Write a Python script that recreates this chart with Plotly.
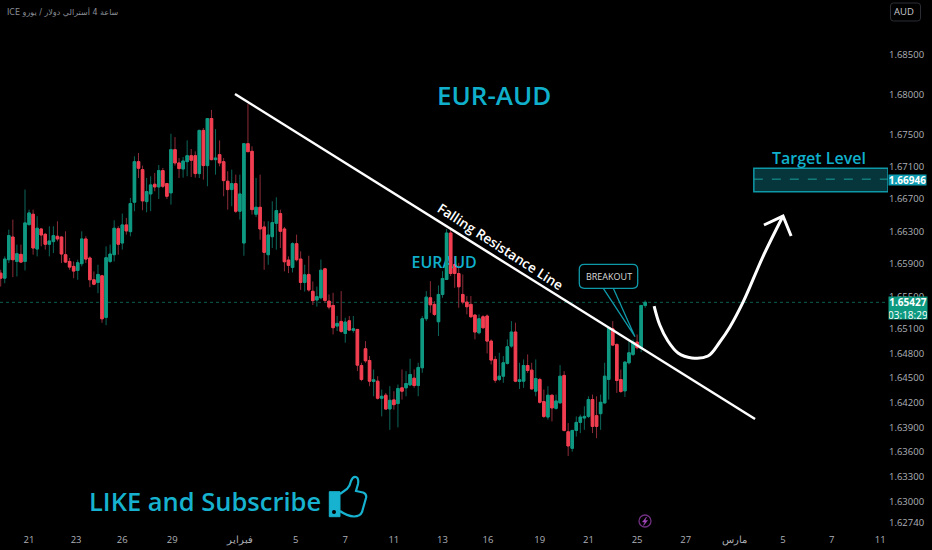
import numpy as np
import plotly.graph_objects as go

W, H = 932, 550
PW, PH = 888, 532

candles = """1.65786 1.65827 1.65621 1.65724
1.65724 1.65992 1.65662 1.65959
1.65951 1.66322 1.65910 1.66248
1.66231 1.66446 1.65737 1.65951
1.65930 1.66137 1.65745 1.66025
1.66017 1.66137 1.65910 1.65922
1.65930 1.66817 1.65819 1.66405
1.66384 1.66569 1.66372 1.66528
1.66512 1.66569 1.66013 1.66095
1.66083 1.66487 1.65992 1.66339
1.66330 1.66343 1.66116 1.66256
1.66264 1.66281 1.66075 1.66141
1.66141 1.66363 1.65992 1.66182
1.66174 1.66363 1.66033 1.66248
1.66240 1.66425 1.66178 1.66207
1.66231 1.66240 1.65910 1.66021
1.66013 1.66301 1.65910 1.65922
1.65930 1.65972 1.65827 1.65860
1.65869 1.65930 1.65724 1.65811
1.65819 1.65951 1.65704 1.65914
1.65902 1.66301 1.65869 1.66207
1.66207 1.66240 1.65910 1.65959
1.65972 1.65992 1.65613 1.65704
1.65704 1.65807 1.65638 1.65650
1.65671 1.65889 1.65539 1.65770
1.65753 1.65765 1.65176 1.65225
1.65242 1.66116 1.65147 1.65976
1.65930 1.66137 1.65910 1.66021
1.66013 1.66437 1.65930 1.66339
1.66334 1.66363 1.66013 1.66141
1.66157 1.66520 1.66075 1.66380
1.66380 1.66466 1.66260 1.66306
1.66297 1.66714 1.66240 1.66644
1.66660 1.67229 1.66549 1.67163
1.67163 1.67270 1.66961 1.67081
1.67064 1.67114 1.66561 1.66677
1.66668 1.66961 1.66536 1.66792
1.66763 1.66982 1.66549 1.66875
1.66883 1.67023 1.66796 1.66850
1.66850 1.67122 1.66701 1.67052
1.67052 1.67085 1.66837 1.66858
1.66891 1.66899 1.66701 1.66734
1.66776 1.67509 1.66631 1.67312
1.67312 1.67468 1.67114 1.67147
1.67147 1.67208 1.66961 1.67077
1.67072 1.67221 1.66965 1.67171
1.67163 1.67427 1.66982 1.67237
1.67237 1.67320 1.66973 1.67180
1.67237 1.67291 1.66965 1.67015
1.67015 1.67559 1.66961 1.67551
1.67551 1.67580 1.66940 1.67114
1.67114 1.67703 1.66858 1.67699
1.67699 1.67806 1.67180 1.67188
1.67188 1.67567 1.67002 1.67208
1.67250 1.67427 1.67105 1.67147
1.67163 1.67208 1.66734 1.66928
1.66920 1.67044 1.66569 1.66817
1.66817 1.67064 1.66611 1.66891
1.66891 1.67002 1.66528 1.66549
1.66549 1.67002 1.66446 1.66763
1.66157 1.67394 1.66000 1.67386
1.67386 1.67881 1.67279 1.67287
1.67291 1.67353 1.66508 1.66569
1.66512 1.66961 1.66479 1.66598
1.66598 1.67002 1.66198 1.66330
1.66355 1.66425 1.65827 1.66042
1.66013 1.66425 1.65889 1.66256
1.66235 1.66672 1.66095 1.66409
1.66400 1.66722 1.66075 1.66557
1.66520 1.66569 1.66095 1.66301
1.66330 1.66355 1.65807 1.65926
1.65947 1.65992 1.65786 1.65881
1.65856 1.66165 1.65794 1.66149
1.66149 1.66260 1.65930 1.65951
1.65959 1.66054 1.65580 1.65671
1.65671 1.65889 1.65559 1.65765
1.65770 1.66000 1.65559 1.65580
1.65563 1.65683 1.65394 1.65448
1.65456 1.65621 1.65374 1.65497
1.65483 1.65953 1.65463 1.65822
1.65839 1.65851 1.65422 1.65451
1.65442 1.65524 1.65340 1.65369
1.65389 1.65544 1.65034 1.65116
1.65136 1.65259 1.65075 1.65169
1.65193 1.65565 1.65054 1.65071
1.65046 1.65238 1.64932 1.65185
1.65201 1.65259 1.65075 1.65087
1.65083 1.65259 1.65054 1.65103
1.65095 1.65100 1.64585 1.64658
1.64654 1.64687 1.64462 1.64483
1.64858 1.64952 1.64687 1.64711
1.64715 1.64769 1.64401 1.64462
1.64458 1.64605 1.64278 1.64479
1.64462 1.64523 1.64238 1.64254
1.64254 1.64360 1.64033 1.64278
1.64291 1.64319 1.64115 1.64123
1.64123 1.64401 1.63870 1.64229
1.64234 1.64340 1.64115 1.64176
1.64189 1.64421 1.63899 1.64372
1.64381 1.64605 1.64238 1.64340
1.64381 1.64585 1.64278 1.64434
1.64417 1.64736 1.64401 1.64544
1.64499 1.64605 1.64381 1.64409
1.64409 1.64687 1.64278 1.64630
1.64626 1.65259 1.64564 1.65226
1.65226 1.65565 1.65197 1.65491
1.65483 1.65687 1.65299 1.65397
1.65402 1.65442 1.65259 1.65279
1.65189 1.65634 1.65014 1.65524
1.65524 1.65810 1.65483 1.65720
1.65708 1.66329 1.65700 1.66280
1.66280 1.66320 1.65749 1.65781
1.65892 1.65994 1.65606 1.65781
1.65781 1.65912 1.65361 1.65618
1.65524 1.65769 1.65402 1.65430
1.65430 1.65504 1.65279 1.65373
1.65402 1.65504 1.65238 1.65250
1.65271 1.65279 1.64973 1.65063
1.65054 1.65279 1.65034 1.65226
1.65250 1.65270 1.65100 1.65116
1.65259 1.65279 1.64801 1.64952
1.64952 1.64973 1.64666 1.64720
1.64728 1.64769 1.64442 1.64474
1.64483 1.64809 1.64462 1.64523
1.64523 1.64769 1.64442 1.64687
1.64679 1.64973 1.64666 1.64883
1.64891 1.65197 1.64871 1.65063
1.65063 1.65177 1.64450 1.64462
1.64458 1.64687 1.64368 1.64479
1.64462 1.64728 1.64381 1.64654
1.64654 1.64789 1.64564 1.64593
1.64597 1.64687 1.64360 1.64368
1.64340 1.64728 1.64278 1.64495
1.64483 1.64503 1.64189 1.64205
1.64213 1.64360 1.64013 1.64033
1.64025 1.64401 1.63993 1.64291
1.64291 1.64299 1.63972 1.64136
1.64131 1.64299 1.64115 1.64221
1.64197 1.64658 1.64197 1.64523
1.64532 1.64585 1.63850 1.63862
1.63846 1.63952 1.63552 1.63674
1.63645 1.63870 1.63605 1.63862
1.63862 1.64033 1.63788 1.63960
1.63960 1.64054 1.63829 1.64025
1.64013 1.64156 1.63870 1.64033
1.64033 1.64278 1.64013 1.64238
1.64238 1.64299 1.63829 1.63911
1.64042 1.64278 1.63768 1.63911
1.64066 1.64299 1.63870 1.64205
1.64197 1.64687 1.64189 1.64523
1.64483 1.65128 1.64238 1.65116
1.65103 1.65197 1.64891 1.64903
1.64911 1.64924 1.64319 1.64470
1.64483 1.64605 1.64319 1.64336
1.64344 1.64707 1.64270 1.64695
1.64687 1.64952 1.64666 1.64809
1.64789 1.64973 1.64769 1.64940
1.64940 1.65034 1.64850 1.64871
1.64862 1.65389 1.64817 1.65389
1.65389 1.65450 1.65360 1.65427"""
rows = [[float(v) for v in line.split()] for line in candles.splitlines()]
opens = [r[0] for r in rows]
highs = [r[1] for r in rows]
lows = [r[2] for r in rows]
closes = [r[3] for r in rows]
index = list(range(len(rows)))

price_ticks = [1.685, 1.68, 1.675, 1.671, 1.667, 1.663, 1.659, 1.655, 1.651, 1.648,
               1.645, 1.642, 1.639, 1.636, 1.633, 1.63, 1.6274]
price_labels = ["1.68500", "1.68000", "1.67500", "1.67100", "1.66700", "1.66300", "1.65900",
                "1.65500", "1.65100", "1.64800", "1.64500", "1.64200", "1.63900", "1.63600",
                "1.63300", "1.63000", "1.62740"]
date_ticks = [7, 18.6, 30, 42.3, 59, 72.8, 85, 97, 109, 120.2, 133, 145, 157, 169, 181, 193, 205, 217]
date_labels = ["21", "23", "26", "29", "فبراير", "5", "7", "11", "13", "16", "19", "21", "25", "27",
               "مارس", "5", "7", "11"]

last_price = 1.65427
target_price = 1.66946
target_top, target_bottom = 1.67081, 1.66791
trend_x, trend_y = [57.8, 186.1], [1.68004, 1.64001]
curve_x = [161.2, 162.6, 164.6, 167.1, 170.5, 174.5, 177.4, 179.9, 183.2, 188.0, 193.0]
curve_y = [1.65382, 1.65149, 1.64953, 1.64807, 1.64746, 1.64770, 1.64941, 1.65125, 1.65435, 1.65984, 1.66490]
head_x = [188.3, 193.0, 195.0]
head_y = [1.66379, 1.66490, 1.66244]

GREEN, RED = "#0f9982", "#f23e50"
GREEN_W, RED_W = "#0c665a", "#8c2c38"
CYAN = "#10b0cc"
TEAL = "#0f98a8"
AXIS = "#aeb1b8"
X_RANGE = [-0.17, 218.9]
Y_RANGE = [float(np.log10(1.62632)), float(np.log10(1.69180))]


def px(x):
    return x / PW


def py(y):
    return 1 - y / PH


def pt(x, y):
    return f"{px(x):.5f},{py(y):.5f}"


def poly(points, close=False):
    d = "M" + " L".join(pt(*p) for p in points)
    return d + (" Z" if close else "")


def rounded(x0, y0, x1, y1, r):
    return (f"M{pt(x0 + r, y0)} L{pt(x1 - r, y0)} Q{pt(x1, y0)} {pt(x1, y0 + r)} L{pt(x1, y1 - r)} "
            f"Q{pt(x1, y1)} {pt(x1 - r, y1)} L{pt(x0 + r, y1)} Q{pt(x0, y1)} {pt(x0, y1 - r)} "
            f"L{pt(x0, y0 + r)} Q{pt(x0, y0)} {pt(x0 + r, y0)} Z")


fig = go.Figure()

fig.add_trace(go.Candlestick(
    x=index, open=opens, high=highs, low=lows, close=closes,
    increasing=dict(line=dict(color=GREEN_W, width=1), fillcolor=GREEN_W),
    decreasing=dict(line=dict(color=RED_W, width=1), fillcolor=RED_W),
    hoverinfo="skip", showlegend=False))
fig.add_trace(go.Candlestick(
    x=index, open=opens, close=closes,
    high=[max(o, c) for o, c in zip(opens, closes)],
    low=[min(o, c) for o, c in zip(opens, closes)],
    increasing=dict(line=dict(color=GREEN, width=1), fillcolor=GREEN),
    decreasing=dict(line=dict(color=RED, width=1), fillcolor=RED),
    hoverinfo="skip", showlegend=False))

fig.add_trace(go.Scatter(x=[109.4], y=[1.65899], mode="text", text=["EURAUD"],
                         textfont=dict(family="Open Sans", size=16, color=CYAN, weight=600),
                         hoverinfo="skip", showlegend=False))
for i in (110, 111):
    fig.add_trace(go.Scatter(x=[i, i], y=[opens[i], closes[i]], mode="lines",
                             line=dict(color=GREEN if closes[i] > opens[i] else RED, width=3),
                             hoverinfo="skip", showlegend=False))

fig.add_trace(go.Scatter(x=trend_x, y=trend_y, mode="lines", line=dict(color="white", width=2.5),
                         hoverinfo="skip", showlegend=False))
fig.add_trace(go.Scatter(x=curve_x, y=curve_y, mode="lines", line=dict(color="white", width=3, shape="spline"),
                         hoverinfo="skip", showlegend=False))
fig.add_trace(go.Scatter(x=head_x, y=head_y, mode="lines", line=dict(color="white", width=3),
                         hoverinfo="skip", showlegend=False))

shapes = [
    dict(type="rect", xref="x", yref="y", x0=185.8, x1=X_RANGE[1], y0=target_bottom, y1=target_top,
         fillcolor="#06363b", line=dict(color=TEAL, width=1.5), layer="below"),
    dict(type="line", xref="x", yref="y", x0=185.8, x1=X_RANGE[1], y0=target_price, y1=target_price,
         line=dict(color="#19a09c", width=1, dash="dash"), layer="below"),
    dict(type="line", xref="x", yref="y", x0=X_RANGE[0], x1=X_RANGE[1], y0=last_price, y1=last_price,
         line=dict(color="#0c5c50", width=1, dash="dot"), layer="below"),
    dict(type="path", xref="paper", yref="paper", path=rounded(579.3, 264.3, 637.7, 288.3, 5),
         line=dict(color=TEAL, width=1.3)),
    dict(type="path", xref="paper", yref="paper",
         path=poly([(603.3, 288.3), (635, 336.7), (613.3, 288.3)]),
         line=dict(color=TEAL, width=1.3)),
    dict(type="path", xref="paper", yref="paper", path=rounded(890.5, 3, 920.5, 21, 3),
         line=dict(color="#2a2d33", width=1)),
    dict(type="circle", xref="paper", yref="paper", x0=px(639), x1=px(651), y0=py(527), y1=py(515),
         line=dict(color="#6f2f80", width=1.3)),
    dict(type="path", xref="paper", yref="paper",
         path=poly([(646.5, 517), (642.5, 522), (645, 522), (643.5, 525.5), (647.5, 520.5), (645, 520.5)], True),
         fillcolor="#a548bd", line=dict(color="#a548bd", width=0.5)),
    dict(type="path", xref="paper", yref="paper",
         path=poly([(329.3, 491.7), (340, 491.7), (340, 516.7), (329.3, 516.7)], True),
         fillcolor="#16b2cf", line=dict(color="#16b2cf", width=1)),
    dict(type="circle", xref="paper", yref="paper", x0=px(332), x1=px(336), y0=py(514), y1=py(510),
         fillcolor="#000000", line=dict(color="#000000", width=0)),
    dict(type="path", xref="paper", yref="paper",
         path=(f"M{pt(340, 494)} L{pt(347, 489)} Q{pt(350, 486)} {pt(351, 481)} "
               f"Q{pt(353, 476)} {pt(356, 477)} Q{pt(359, 478)} {pt(358, 484)} L{pt(356, 491)} "
               f"L{pt(363, 492.5)} Q{pt(367, 494)} {pt(366, 498)} L{pt(362, 512)} "
               f"Q{pt(360, 516.5)} {pt(354, 516.5)} Q{pt(347, 516)} {pt(340, 511)}"),
         line=dict(color="#16b2cf", width=2.2)),
]

def note(x, y, text, size, color, family="Open Sans", weight=400, angle=0, anchor="center", **kw):
    return dict(xref="paper", yref="paper", x=px(x), y=py(y), text=text, showarrow=False,
                xanchor=anchor, yanchor="middle", textangle=angle,
                font=dict(family=family, size=size, color=color, weight=weight), **kw)


annotations = [
    note(494, 95, "EUR-AUD", 26, CYAN, weight=600),
    note(501, 247, "Falling Resistance Line", 13.5, "white", weight=600, angle=33),
    note(819, 158, "Target Level", 16, CYAN, weight=600),
    note(608.5, 276, "BREAKOUT", 9, "#dcdcdc", weight=500),
    note(205, 501, "LIKE and Subscribe", 25.5, "#16b2cf", weight=600),
    note(5, 12, "ICE ساعة 4 أسترالي دولار / يورو", 8, "#8b8e96", family="DejaVu Sans", anchor="left"),
    note(904, 12, "AUD", 9.5, "#c8cad0", family="Open Sans", weight=500),
    note(907.5, 180, "<b>1.66946</b>", 10, "white", family="Open Sans",
         bgcolor="#0c9ab0", borderpad=0, width=37, height=10),
    note(907.5, 307.5, "<b>1.65427</b><br>03:18:29", 10, "white", family="Open Sans",
         bgcolor="#0e9a80", borderpad=0, width=38, height=22),
]

fig.update_layout(
    width=W, height=H, autosize=False,
    paper_bgcolor="#000000", plot_bgcolor="#000000",
    margin=dict(l=0, r=W - PW, t=0, b=H - PH),
    boxgap=0.12,
    showlegend=False, shapes=shapes, annotations=annotations,
    xaxis=dict(range=X_RANGE, tickvals=date_ticks, ticktext=date_labels, showgrid=False, zeroline=False,
               showline=False, ticks="", rangeslider=dict(visible=False), tickangle=0,
               tickfont=dict(family="Open Sans", size=9.5, color=AXIS)),
    yaxis=dict(type="log", range=Y_RANGE, side="right", tickvals=price_ticks, ticktext=price_labels,
               showgrid=False, zeroline=False, showline=False, ticks="", ticklen=0,
               tickfont=dict(family="Open Sans", size=9.5, color=AXIS)),
)
fig.write_html("out.html", config=dict(displayModeBar=False),
               post_script="document.body.style.margin='0';document.documentElement.style.background='#000';")
